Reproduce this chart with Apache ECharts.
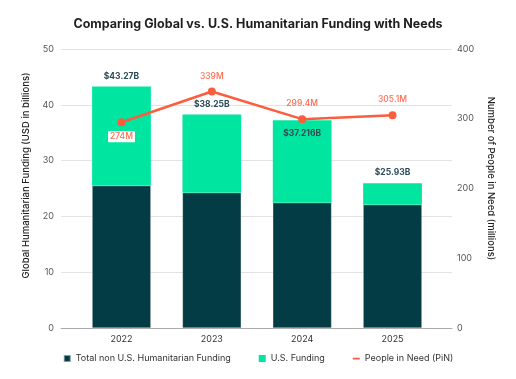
<!DOCTYPE html>
<html>
<head>
<meta charset="utf-8">
<script src="https://cdn.jsdelivr.net/npm/echarts@6/dist/echarts.min.js"></script>
<style>html,body{margin:0;padding:0;background:#fff}#c{width:516px;height:379px}</style>
</head>
<body>
<div id="c"></div>
<script>
const years = ['2022', '2023', '2024', '2025'];
const nonUSFunding = [25.5, 24.25, 22.45, 22.1];
const usFunding = [17.77, 14.0, 14.77, 3.83];
const totalLabels = ['$43.27B', '$38.25B', '$37.216B', '$25.93B'];
const peopleInNeed = [295, 339, 299.4, 305.1];
const pinLabels = ['274M', '339M', '299.4M', '305.1M'];

const FONT = 'Inter, "Noto Sans", sans-serif';
const chart = echarts.init(document.getElementById('c'), null, {renderer: 'canvas'});

const gridTop = 49, gridBottom = 51;
chart.setOption({
  animation: false,
  textStyle: {fontFamily: FONT},
  title: {
    text: 'Comparing Global vs. U.S. Humanitarian Funding with Needs',
    left: 'center', top: 13,
    textStyle: {fontFamily: FONT, fontSize: 12.5, fontWeight: 'bold', color: '#1f1f1f'}
  },
  legend: {
    bottom: 11, left: 'center',
    itemWidth: 7, itemHeight: 7, itemGap: 28,
    textStyle: {fontFamily: FONT, fontSize: 9, color: '#333'},
    data: [
      {name: 'Total non U.S. Humanitarian Funding', icon: 'rect'},
      {name: 'U.S. Funding', icon: 'rect'},
      {name: 'People in Need (PiN)', icon: 'path://M0,0h0.01v0.01h-0.01zM0,2.8h7v1.6h-7zM7,7h-0.01v-0.01h0.01z'}
    ]
  },
  grid: [
    {left: 61, right: 64, top: gridTop, bottom: gridBottom},
    {left: 76.3, right: 78.3, top: gridTop, bottom: gridBottom}
  ],
  xAxis: [
    {gridIndex: 0, type: 'value', min: 0, max: 1, axisLabel: {show: false}, axisTick: {show: false},
     splitLine: {show: false}, axisLine: {show: true, lineStyle: {color: '#aaa', width: 1}}},
    {gridIndex: 1, type: 'category', data: years, axisLine: {show: false}, axisTick: {show: false},
     axisLabel: {color: '#333', fontSize: 9, margin: 7, fontFamily: FONT}}
  ],
  yAxis: [
    {gridIndex: 0, type: 'value', min: 0, max: 50, interval: 10, position: 'left',
     axisLine: {show: false}, axisTick: {show: false},
     axisLabel: {color: '#555', fontSize: 9, margin: 7, fontFamily: FONT},
     splitLine: {lineStyle: {color: '#e2e2e2', width: 1}},
     name: 'Global Humanitarian Funding (USD in billions)', nameLocation: 'middle', nameGap: 27,
     nameTextStyle: {color: '#222', fontSize: 9.5, fontWeight: 500, fontFamily: FONT, padding: [0, 0, 0, 26]}},
    {gridIndex: 0, type: 'value', min: 0, max: 400, interval: 100, position: 'right',
     axisLine: {show: false}, axisTick: {show: false},
     axisLabel: {color: '#555', fontSize: 9, margin: 5, fontFamily: FONT},
     splitLine: {show: false},
     name: 'Number of People in Need (millions)', nameLocation: 'middle', nameGap: 34, nameRotate: -90,
     nameTextStyle: {color: '#222', fontSize: 9.5, fontWeight: 500, fontFamily: FONT, padding: [0, 20, 0, 0]}},
    {gridIndex: 1, type: 'value', min: 0, max: 50, interval: 10, show: false},
    {gridIndex: 1, type: 'value', min: 0, max: 400, interval: 100, show: false}
  ],
  series: [
    {
      name: 'Total non U.S. Humanitarian Funding', type: 'bar', stack: 'f',
      xAxisIndex: 1, yAxisIndex: 2, barWidth: '65%',
      itemStyle: {color: '#033c44', borderColor: 'rgba(255,255,255,0.5)', borderWidth: 0.5},
      data: nonUSFunding
    },
    {
      name: 'U.S. Funding', type: 'bar', stack: 'f',
      xAxisIndex: 1, yAxisIndex: 2, barWidth: '65%',
      itemStyle: {color: '#00e6a0'},
      label: {
        show: true, position: 'top', distance: 6,
        color: '#2b4c56', fontSize: 8.5, fontWeight: 'bold', fontFamily: FONT,
        formatter: p => totalLabels[p.dataIndex]
      },
      data: usFunding.map((v, i) => i === 2
        ? {value: v, label: {position: 'insideTop', distance: 9}}
        : v)
    },
    {
      name: 'People in Need (PiN)', type: 'line',
      xAxisIndex: 1, yAxisIndex: 3,
      symbol: 'circle', symbolSize: 8,
      lineStyle: {color: '#fb5d3f', width: 2.5},
      itemStyle: {color: '#fb5d3f'},
      label: {
        show: true, position: 'top', distance: 7,
        color: '#ff6b4f', fontSize: 8.5, fontWeight: 500, fontFamily: FONT,
        formatter: p => pinLabels[p.dataIndex]
      },
      data: peopleInNeed.map((v, i) => i === 0
        ? {value: v, label: {position: 'bottom', distance: 5, backgroundColor: '#fff', padding: [1, 2]}}
        : v),
      z: 5
    }
  ]
});
</script>
</body>
</html>
